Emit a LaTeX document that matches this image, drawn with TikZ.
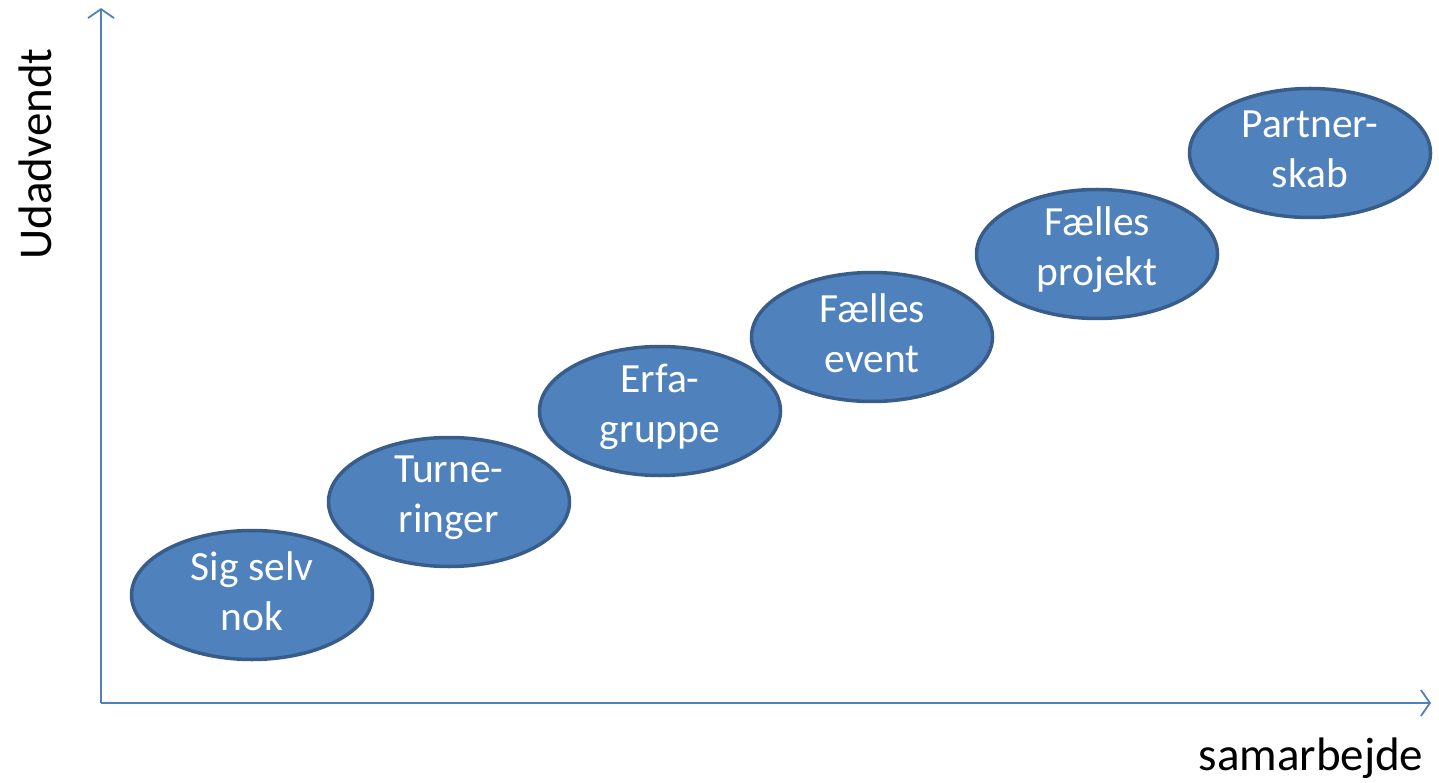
\documentclass[tikz,border=0pt]{standalone}
\usepackage{fontspec}
\setmainfont{Carlito}
\usetikzlibrary{shapes.geometric,arrows.meta}
\definecolor{accent}{HTML}{4F81BD}
\definecolor{accentdark}{HTML}{385D8A}
\tikzset{
  bubble/.style={ellipse, draw=accentdark, fill=accent, line width=3.5pt,
    minimum width=241pt, minimum height=129pt, inner sep=0pt},
  bubbletext/.style={text=white, font=\fontsize{41.5}{50}\selectfont, align=center,
    inner sep=0pt, yshift=4pt},
  axis/.style={draw=accent, line width=1.8pt, -{Straight Barb[length=9pt,width=26pt,line width=1.8pt]}},
  axislabel/.style={font=\fontsize{47}{55}\selectfont, text=black, inner sep=0pt}
}
\begin{document}
\begin{tikzpicture}[x=1pt,y=-1pt]
\useasboundingbox (0,0) rectangle (1439,783);
\coordinate (O) at (101,703);
\coordinate (ytip) at (101,8);
\coordinate (xtip) at (1431,703);
\draw[axis] (O) -- (ytip);
\draw[axis] (O) -- (xtip);
\node[axislabel, rotate=90] (ylab) at (35,154) {Udadvendt};
\node[axislabel] (xlab) at (1311,758) {samarbejde};
\node[bubble, label={[bubbletext]center:{Sig selv\\nok}}] (b1) at (252,595) {};
\node[bubble, label={[bubbletext]center:{Turne-\\ringer}}] (b2) at (449,502) {};
\node[bubble, label={[bubbletext]center:{Erfa-\\gruppe}}] (b3) at (660,411) {};
\node[bubble, label={[bubbletext]center:{Fælles\\event}}] (b4) at (872,337) {};
\node[bubble, label={[bubbletext]center:{Fælles\\projekt}}] (b5) at (1097,254) {};
\node[bubble, label={[bubbletext]center:{Partner-\\skab}}] (b6) at (1310,153) {};
\end{tikzpicture}
\end{document}
